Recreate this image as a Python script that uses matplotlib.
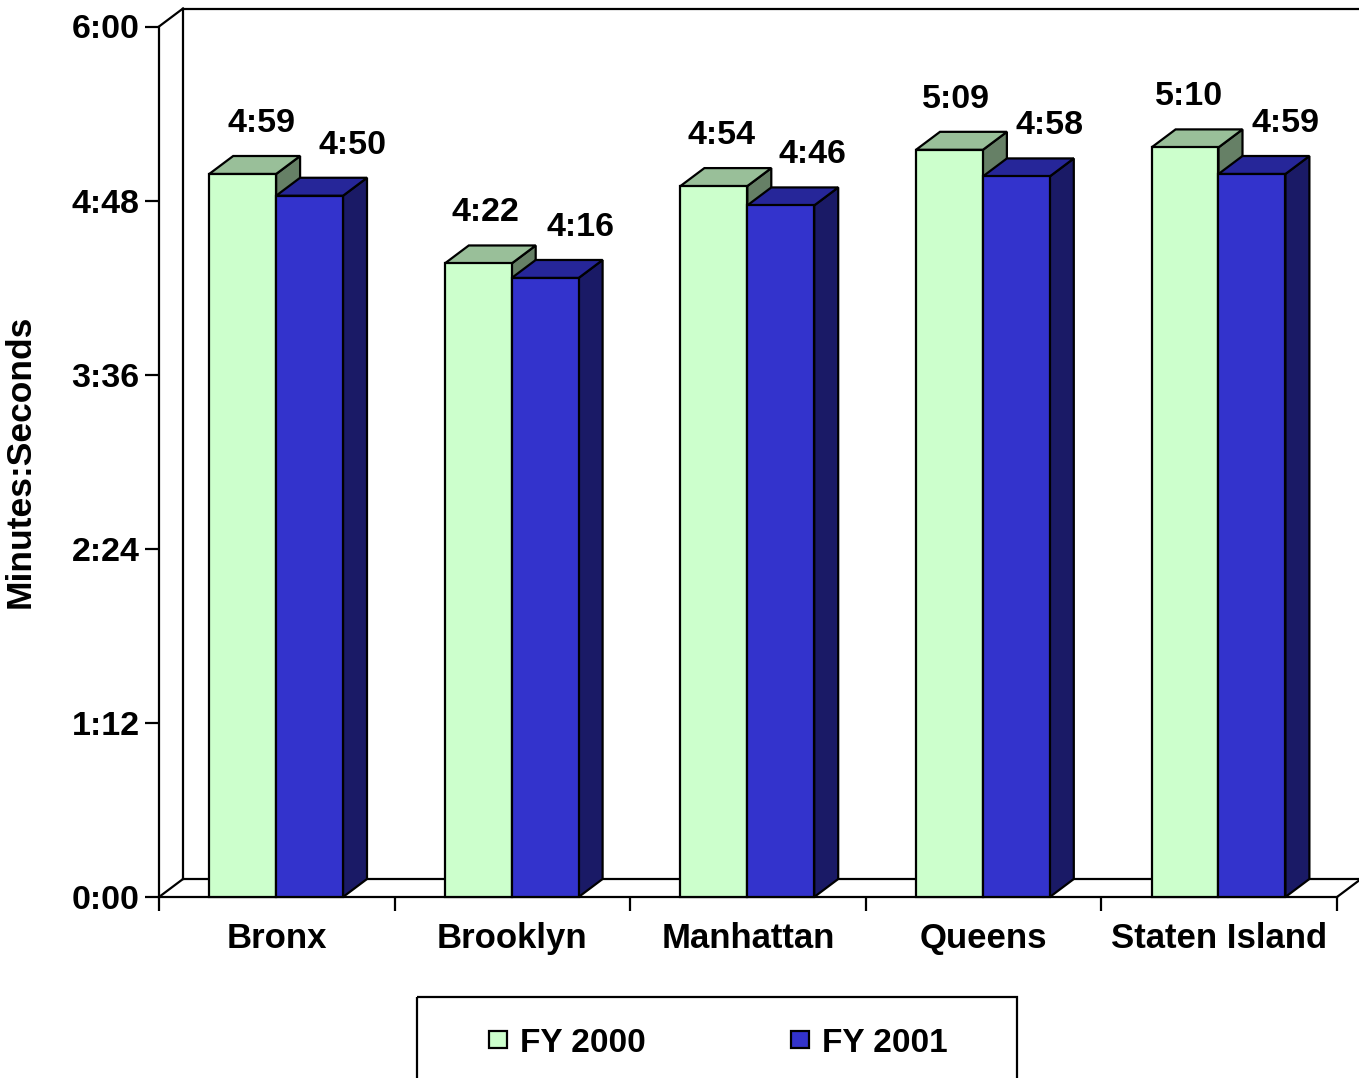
import matplotlib
matplotlib.use("Agg")
import matplotlib.pyplot as plt
from matplotlib.patches import Polygon, Rectangle
from matplotlib.ticker import FixedLocator, FuncFormatter, NullFormatter

# ---- data (average response time, in seconds) ----
boroughs = ["Bronx", "Brooklyn", "Manhattan", "Queens", "Staten Island"]
series_names = ["FY 2000", "FY 2001"]
fy2000_sec = [299, 262, 294, 309, 310]
fy2001_sec = [290, 256, 286, 298, 299]
y_ticks_sec = [0, 72, 144, 216, 288, 360]

# ---- styling ----
FRONT = ["#CCFFCC", "#3333CC"]
TOP = ["#99BF99", "#262699"]
SIDE = ["#668066", "#1A1A66"]
label_nudge_px = [[19, 7, 8, 7, 4], [43, 35, 32, 33, 34]]

W, H, DPI = 1359, 1078, 100
plt.rcParams["font.family"] = ["Liberation Sans", "DejaVu Sans"]
plt.rcParams["font.weight"] = "bold"


def mmss(v, pos=None):
    v = int(round(v))
    return f"{v // 60}:{v % 60:02d}"


fig = plt.figure(figsize=(W / DPI, H / DPI), dpi=DPI)
ax = fig.add_axes([159 / W, (H - 897) / H, 1178 / W, (897 - 26.5) / H])
n = len(boroughs)
ymax = y_ticks_sec[-1]
ax.set_xlim(0, n)
ax.set_ylim(0, ymax)
for s in ax.spines.values():
    s.set_visible(False)
ax.patch.set_visible(False)

# depth offset of the 3-D box, converted from pixels to data units
DX = 24 * n / 1178
DY = 18 * ymax / 870.5
LW = 1.6
line_kw = dict(color="black", lw=LW, clip_on=False, solid_capstyle="projecting", zorder=1)

# walls and floor
ax.plot([0, 0], [0, ymax], **line_kw)
ax.plot([0, DX], [ymax, ymax + DY], **line_kw)
ax.plot([DX, DX], [DY, ymax + DY], **line_kw)
ax.plot([DX, n + DX + 0.2], [ymax + DY, ymax + DY], **line_kw)
ax.plot([0, n], [0, 0], **line_kw)
ax.plot([DX, n + DX], [DY, DY], **line_kw)
ax.plot([0, DX], [0, DY], **line_kw)
ax.plot([n, n + DX], [0, DY], **line_kw)

bar_w = 0.284
first_left = 0.213


def bar3d(x0, h, k):
    x1 = x0 + bar_w
    kw = dict(edgecolor="black", lw=LW, joinstyle="miter", clip_on=False, zorder=3)
    ax.add_patch(Polygon([(x1, 0), (x1 + DX, DY), (x1 + DX, h + DY), (x1, h)],
                         facecolor=SIDE[k], **kw))
    ax.add_patch(Polygon([(x0, h), (x0 + DX, h + DY), (x1 + DX, h + DY), (x1, h)],
                         facecolor=TOP[k], **kw))
    ax.add_patch(Polygon([(x0, 0), (x1, 0), (x1, h), (x0, h)],
                         facecolor=FRONT[k], **kw))


series = [fy2000_sec, fy2001_sec]
for i in range(n):
    for k, vals in enumerate(series):
        x0 = i + first_left + k * bar_w
        bar3d(x0, vals[i], k)
        ax.annotate(mmss(vals[i]), xy=(x0 + bar_w / 2, vals[i]),
                    xytext=(label_nudge_px[k][i], 42), textcoords="offset pixels",
                    ha="center", va="baseline", fontsize=24.5, fontweight="bold",
                    annotation_clip=False, zorder=5)

# axes ticks
ax.yaxis.set_major_locator(FixedLocator(y_ticks_sec))
ax.yaxis.set_major_formatter(FuncFormatter(mmss))
ax.tick_params(axis="y", direction="out", length=10, width=LW, pad=4,
               labelsize=24.5)
ax.xaxis.set_major_locator(FixedLocator(list(range(n + 1))))
ax.xaxis.set_major_formatter(NullFormatter())
ax.xaxis.set_minor_locator(FixedLocator([i + 0.5 for i in range(n)]))
ax.xaxis.set_minor_formatter(FuncFormatter(lambda v, p: boroughs[int(v)]))
ax.tick_params(axis="x", which="major", direction="out", length=10, width=LW)
ax.tick_params(axis="x", which="minor", length=0, pad=18, labelsize=25)
for t in ax.get_yticklabels() + ax.get_xticklabels(minor=True):
    t.set_fontweight("bold")

fig.text(20 / W, 1 - 461.5 / H, "Minutes:Seconds", rotation=90, ha="center",
         va="center", fontsize=25.5, fontweight="bold")

# legend box
ov = fig.add_axes([0, 0, 1, 1], zorder=4)
ov.set_xlim(0, W)
ov.set_ylim(H, 0)
ov.axis("off")
ov.add_patch(Rectangle((417, 997), 600, 200, fill=False, edgecolor="black", lw=LW))
legend_x = [489, 791]
for k, name in enumerate(series_names):
    ov.add_patch(Rectangle((legend_x[k], 1031), 18, 17, facecolor=FRONT[k],
                           edgecolor="black", lw=LW))
    ov.text(legend_x[k] + 31, 1052, name, ha="left", va="baseline",
            fontsize=24, fontweight="bold")

fig.savefig("out.png", dpi=DPI)
